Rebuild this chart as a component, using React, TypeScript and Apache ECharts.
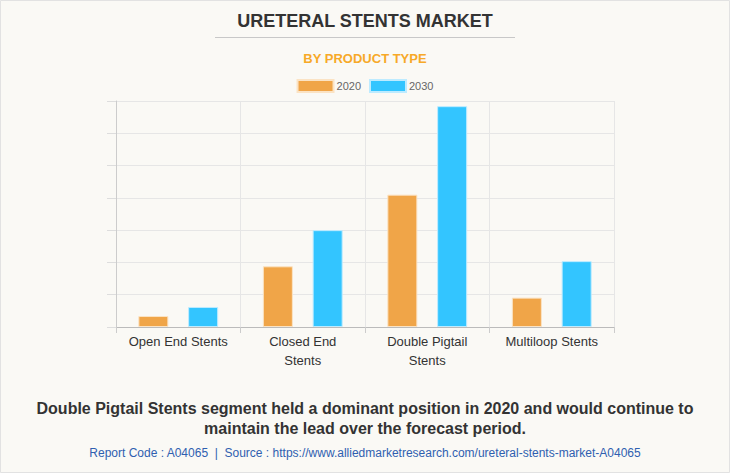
import React, { useEffect, useRef } from "react";
import * as echarts from "echarts";

const categories = ["Open End Stents", "Closed End\nStents", "Double Pigtail\nStents", "Multiloop Stents"];
const values2020 = [0.34, 1.88, 4.1, 0.91];
const values2030 = [0.62, 3.0, 6.84, 2.04];
const seriesNames = ["2020", "2030"];

export default function App() {
  const ref = useRef<HTMLDivElement>(null);
  useEffect(() => {
    document.body.style.margin = "0";
    const chart = echarts.init(ref.current!, null, { renderer: "svg" });
    chart.setOption({
      animation: false,
      backgroundColor: "#FAF9F5",
      title: [
        {
          text: "URETERAL STENTS MARKET",
          left: "center",
          top: 7,
          textStyle: { fontFamily: "Arial, Liberation Sans", fontSize: 18, fontWeight: "bold", color: "#333333" },
        },
        {
          text: "BY PRODUCT TYPE",
          left: "center",
          top: 47,
          textStyle: { fontFamily: "Arial, Liberation Sans", fontSize: 13, fontWeight: "bold", color: "#F7A928" },
        },
      ],
      legend: {
        top: 74,
        left: "center",
        itemWidth: 36,
        itemHeight: 12,
        itemGap: 8,
        icon: "rect",
        textStyle: { fontFamily: "Arial, Liberation Sans", fontSize: 11, color: "#666666", padding: [0, 0, 0, -2] },
        data: seriesNames,
      },
      graphic: [
        { type: "line", shape: { x1: 215, y1: 37.5, x2: 515, y2: 37.5 }, style: { stroke: "#C8C8C8", lineWidth: 1 } },
        {
          type: "text",
          x: 365,
          y: 398,
          style: {
            text: "Double Pigtail Stents segment held a dominant position in 2020 and would continue to\nmaintain the lead over the forecast period.",
            fontFamily: "Arial, Liberation Sans",
            fontSize: 16,
            fontWeight: "bold",
            fill: "#333333",
            align: "center",
            lineHeight: 20,
          },
        },
        {
          type: "text",
          x: 365,
          y: 447,
          style: {
            text: "Report Code : A04065  |  Source : https://www.alliedmarketresearch.com/ureteral-stents-market-A04065",
            fontFamily: "Arial, Liberation Sans",
            fontSize: 12,
            fill: "#2F60B0",
            align: "center",
          },
        },
        { type: "rect", shape: { x: 0.5, y: 0.5, width: 729, height: 472 }, style: { fill: "none", stroke: "#E2E2E2", lineWidth: 1 } },
      ],
      grid: { left: 116, right: 116, top: 101, bottom: 146 },
      xAxis: {
        type: "category",
        data: categories,
        axisLine: { lineStyle: { color: "#BBBBBB" } },
        axisTick: { show: true, interval: 0, length: 6, lineStyle: { color: "#CCCCCC" } },
        splitLine: { show: true, interval: 0, lineStyle: { color: "#E6E6E6" } },
        axisLabel: { interval: 0, fontFamily: "Arial, Liberation Sans", fontSize: 13, color: "#333333", lineHeight: 19, margin: 5 },
      },
      yAxis: {
        type: "value",
        min: 0,
        max: 7,
        interval: 1,
        axisLabel: { show: false },
        axisLine: { show: true, lineStyle: { color: "#CCCCCC" } },
        axisTick: { show: true, length: 9, lineStyle: { color: "#DDDDDD" } },
        splitLine: { lineStyle: { color: "#E6E6E6" } },
      },
      series: [
        {
          name: seriesNames[0],
          type: "bar",
          data: values2020,
          barWidth: 30,
          barGap: "66%",
          itemStyle: { color: "#F0A548", borderColor: "#FBE3C4", borderWidth: 1 },
        },
        {
          name: seriesNames[1],
          type: "bar",
          data: values2030,
          barWidth: 30,
          itemStyle: { color: "#33C5FF", borderColor: "#BDEBFF", borderWidth: 1 },
        },
      ],
    });
    return () => chart.dispose();
  }, []);
  return <div ref={ref} style={{ width: 730, height: 473 }} />;
}
